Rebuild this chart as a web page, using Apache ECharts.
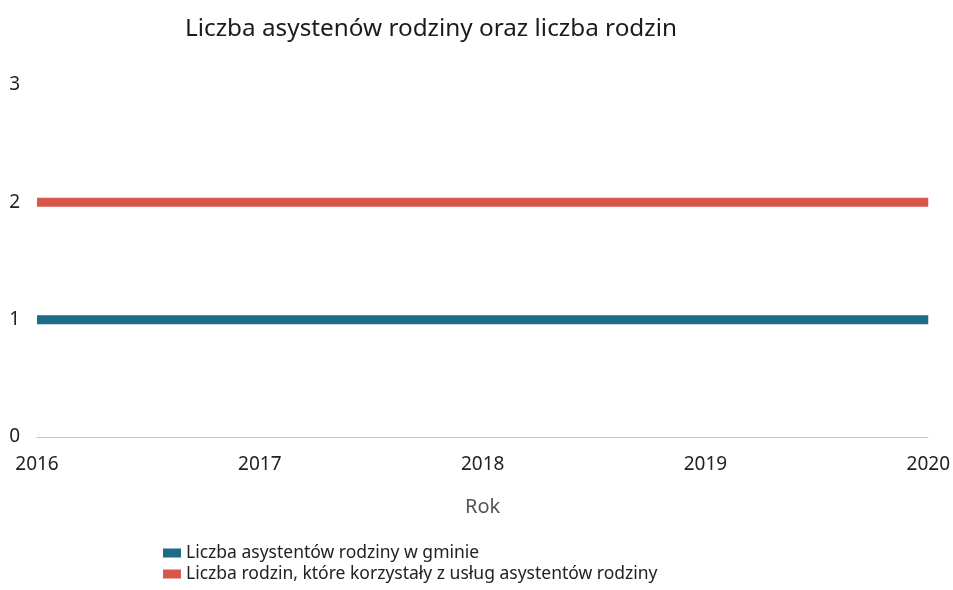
<!DOCTYPE html>
<html><head><meta charset="utf-8">
<script src="https://cdn.jsdelivr.net/npm/echarts@6/dist/echarts.min.js"></script>
<style>html,body{margin:0;padding:0;background:#fff}#c{width:953px;height:590px}</style>
</head><body><div id="c"></div>
<script>
const years = ['2016','2017','2018','2019','2020'];
const asystenci = [1,1,1,1,1];
const rodziny = [2,2,2,2,2];
const seriesNames = ['Liczba asystentów rodziny w gminie','Liczba rodzin, które korzystały z usług asystentów rodziny'];
const yTicks = [0,1,2,3];
const font = '"Noto Sans", "Open Sans", sans-serif';
const chart = echarts.init(document.getElementById('c'));
chart.setOption({
  animation:false,
  title:{text:'Liczba asystenów rodziny oraz liczba rodzin',left:180,top:12,
    textStyle:{fontFamily:font,fontSize:24.3,fontWeight:'normal',color:'#1a1a22'}},
  grid:{left:37,right:24,top:85,bottom:153},
  legend:{orient:'vertical',left:158,top:539,itemWidth:18,itemHeight:9,itemGap:3,
    icon:'rect',textStyle:{fontFamily:font,fontSize:17.5,color:'#222'}},
  xAxis:{type:'category',data:years,boundaryGap:false,name:'Rok',nameLocation:'middle',nameGap:60,
    nameTextStyle:{fontFamily:font,fontSize:20,color:'#555'},
    axisLine:{show:true,lineStyle:{color:'#bbb',type:'dotted',width:1}},
    axisTick:{show:false},
    axisLabel:{fontFamily:font,fontSize:19,color:'#222',margin:18}},
  yAxis:{type:'value',min:yTicks[0],max:yTicks[yTicks.length-1],interval:1,
    splitLine:{show:false},axisLine:{show:false},axisTick:{show:false},
    axisLabel:{fontFamily:font,fontSize:19,color:'#222',margin:17}},
  series:[
    {name:seriesNames[0],type:'line',data:asystenci,symbol:'none',color:'#1c6b88',
      lineStyle:{width:9,color:'#1c6b88',cap:'butt'}},
    {name:seriesNames[1],type:'line',data:rodziny,symbol:'none',color:'#d9564a',
      lineStyle:{width:9,color:'#d9564a',cap:'butt'}}
  ]
});
</script></body></html>
